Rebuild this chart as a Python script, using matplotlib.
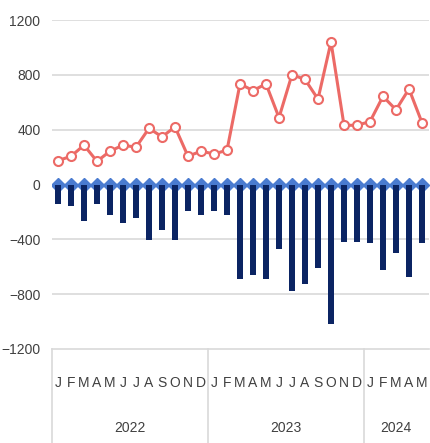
import numpy as np
import matplotlib.pyplot as plt

# monthly values Jan 2022 .. May 2024
months = list("JFMAMJJASOND") * 2 + list("JFMAM")
years = ["2022", "2023", "2024"]
year_len = [12, 12, 5]

red_vals = [174, 206, 287, 169, 243, 287, 272, 410, 348, 420, 206, 243,
            223, 250, 734, 685, 734, 488, 802, 766, 623, 1040, 432, 432,
            459, 643, 545, 697, 451]
bar_vals = [-142, -157, -265, -142, -226, -280, -245, -403, -334, -403, -194, -223,
            -192, -221, -692, -658, -692, -467, -778, -729, -606, -1019, -417, -417,
            -430, -626, -498, -675, -430]
net_vals = [0] * 29

plt.rcParams["font.family"] = ["Liberation Sans", "DejaVu Sans"]

W, H = 430, 443
fig = plt.figure(figsize=(W / 100, H / 100), dpi=100)
ax = fig.add_axes([51.5 / W, 1 - 349 / H, (428.5 - 51.5) / W, (349 - 20) / H])

x = np.arange(len(red_vals))
ax.set_xlim(-0.5, len(red_vals) - 0.5)
ax.set_ylim(-1200, 1200)

for g in [1200, 800, 400, -400, -800]:
    ax.axhline(g, color="#d9d9d9", lw=1.2, zorder=0)

ax.plot(x, net_vals, color="#8fb0e0", lw=2.5, marker="D", ms=7,
        mfc="#4a7bd0", mec="#4a7bd0", zorder=2)
ax.bar(x, bar_vals, width=0.42, color="#0b2463", zorder=3)
ax.plot(x, red_vals, color="#ec6a66", lw=2.2, marker="o", ms=6.5,
        mfc="white", mec="#ec6a66", mew=1.5, zorder=4)

for s in ["top", "right", "left"]:
    ax.spines[s].set_visible(False)
ax.spines["bottom"].set_color("#d9d9d9")
ax.spines["bottom"].set_linewidth(1.2)

ax.set_yticks([1200, 800, 400, 0, -400, -800, -1200])
ax.tick_params(axis="y", length=0, pad=8, labelsize=10, labelcolor="#404040")
ax.set_xticks([])

# two-level category axis
tr = ax.get_xaxis_transform()
ax_h = 349 - 20
for i, m in enumerate(months):
    ax.text(i, -(383 - 349) / ax_h, m, transform=tr, ha="center", va="center",
            fontsize=10, color="#404040")
start = 0
bounds = [-0.5]
for yr, n in zip(years, year_len):
    ax.text(start + (n - 1) / 2, -(428 - 349) / ax_h, yr, transform=tr,
            ha="center", va="center", fontsize=10, color="#404040")
    start += n
    bounds.append(start - 0.5)
for b in bounds[:-1]:
    ax.plot([b, b], [0, -(443 - 349) / ax_h], transform=tr, color="#d9d9d9",
            lw=1.2, clip_on=False)

fig.savefig("out.png", dpi=100)
